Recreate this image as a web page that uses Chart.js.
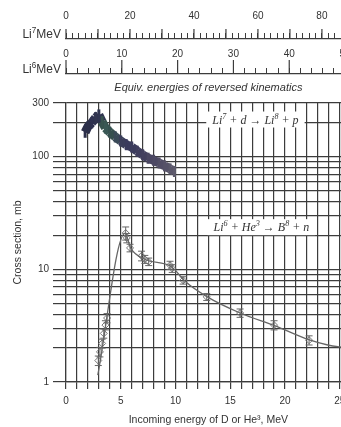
<!DOCTYPE html>
<html>
<head>
<meta charset="utf-8">
<script src="https://cdn.jsdelivr.net/npm/chart.js@4.4.1/dist/chart.umd.min.js"></script>
<style>
  html, body { margin: 0; padding: 0; background: #fff; overflow: hidden; }
  #wrap { width: 341px; height: 427px; overflow: hidden; }
  canvas { display: block; }
</style>
</head>
<body>
<div id="wrap"><canvas id="chart" width="370" height="427"></canvas></div>
<script>
// Li7 + d -> Li8 + p (dense band of measurements)
var li7Energy = [1.75, 2.0, 2.35, 2.7, 3.0, 3.3, 3.6, 4.0, 4.5, 5.0, 5.5, 6.0, 6.5, 7.0, 7.5, 8.0, 8.5, 9.0, 9.5, 9.9];
var li7Sigma  = [165, 185, 200, 222, 235, 205, 180, 165, 150, 138, 128, 122, 112, 104, 97, 93, 88, 83, 78, 74];

// Li6 + He3 -> B8 + n (points with error bars)
var li6Energy = [2.95, 3.1, 3.3, 3.45, 3.6, 3.75, 5.45, 5.55, 5.85, 6.9, 7.2, 7.55, 9.5, 9.7, 10.7, 12.85, 15.9, 19.0, 22.2];
var li6Sigma  = [1.55, 1.85, 2.2, 2.7, 3.2, 3.7, 21, 19, 15.5, 13.2, 12.3, 11.7, 10.9, 10.2, 8.0, 5.7, 4.1, 3.2, 2.35];
var li6Err    = [0.15, 0.18, 0.2, 0.25, 0.3, 0.35, 2.8, 1.8, 1.2, 1.3, 1.0, 0.9, 0.9, 0.8, 0.6, 0.4, 0.35, 0.3, 0.22];

// hand drawn curve through the Li6 points
var fitEnergy = [2.9, 5.4, 5.9, 7.2, 9.6, 10.9, 12.9, 15.9, 19.1, 22.3, 24, 25, 26];
var fitSigma  = [1.15, 21, 15.5, 12.3, 10.6, 7.8, 5.7, 4.1, 3.15, 2.35, 2.12, 2.05, 2.0];

var xTickLabels = [0, 5, 10, 15, 20, 25];
var yTickLabels = [1, 10, 100, 300];
var yGrid = [1, 2, 3, 4, 5, 6, 7, 8, 9, 10, 20, 30, 40, 50, 60, 70, 80, 90, 100, 200, 300];
var li7MeVLabels = [0, 20, 40, 60, 80];
var li6MeVLabels = [0, 10, 20, 30, 40, 50];

var maxE = 26;
var li7Ratio = 3.423;   // Li7 energy per MeV of D
var li6Ratio = 1.962;   // Li6 energy per MeV of He3

var li7Colors = ['#2c2f4a', '#2c2f4a', '#2e3150', '#30344f', '#2f3450',
                 '#38534f', '#3a5855', '#36504f', '#3a4a58',
                 '#3b3d5a', '#3a3a5c', '#3c3c5d', '#403e5e', '#43405f',
                 '#4a4662', '#4d4964', '#524e66', '#565268', '#5a576a', '#5e5b6c'];

var gridCol = '#3c3c3c';
var textCol = '#333';
Chart.defaults.font.family = '"Liberation Sans", Arial, sans-serif';

var notes = [
    {x: 17.3, y: 214, parts: [['Li'], ['7', 1], [' + d \u2192 Li'], ['8', 1], [' + p']]},
    {x: 17.85, y: 23.7, parts: [['Li'], ['6', 1], [' + He'], ['3', 1], [' \u2192 B'], ['8', 1], [' + n']]}
];

function richText(ctx, parts, x, y, size, font, draw) {
    parts.forEach(function (p) {
        var fs = p[1] ? size * 0.68 : size;
        ctx.font = font.replace('SZ', fs + 'px');
        if (draw) ctx.fillText(p[0], x, p[1] ? y - size * 0.4 : y);
        x += ctx.measureText(p[0]).width;
    });
    return x;
}

function pick(list) {
    return function (v) { return list.indexOf(v) >= 0 ? String(v) : ''; };
}

var extras = {
    id: 'extras',
    beforeDatasetsDraw: function (chart) {
        var ctx = chart.ctx, xs = chart.scales.x, ys = chart.scales.y;
        var f = 'italic SZ "Liberation Serif", "Times New Roman", serif';
        notes.forEach(function (n) {
            var px = xs.getPixelForValue(n.x), py = ys.getPixelForValue(n.y);
            ctx.save();
            var w = richText(ctx, n.parts, 0, 0, 12, f, false);
            ctx.fillStyle = '#fff';
            ctx.fillRect(px - w / 2 - 6, py - 8, w + 12, 16);
            ctx.fillStyle = '#333';
            ctx.textBaseline = 'alphabetic';
            richText(ctx, n.parts, px - w / 2, py + 4, 12, f, true);
            ctx.restore();
        });
    },
    afterDatasetsDraw: function (chart) {
        var ctx = chart.ctx, xs = chart.scales.x, ys = chart.scales.y;
        ctx.save();
        // band roughness of the Li7 data
        ctx.lineWidth = 3;
        li7Energy.forEach(function (e, i) {
            var px = xs.getPixelForValue(e);
            ctx.strokeStyle = li7Colors[i];
            ctx.beginPath();
            ctx.moveTo(px, ys.getPixelForValue(li7Sigma[i] * 1.12));
            ctx.lineTo(px, ys.getPixelForValue(li7Sigma[i] / 1.12));
            ctx.stroke();
        });
        // error bars on Li6 points
        ctx.strokeStyle = '#666';
        ctx.lineWidth = 1;
        li6Energy.forEach(function (e, i) {
            var px = xs.getPixelForValue(e);
            var t = ys.getPixelForValue(li6Sigma[i] + li6Err[i]);
            var b = ys.getPixelForValue(li6Sigma[i] - li6Err[i]);
            ctx.beginPath();
            ctx.moveTo(px, t); ctx.lineTo(px, b);
            ctx.moveTo(px - 3.5, t); ctx.lineTo(px + 3.5, t);
            ctx.moveTo(px - 3.5, b); ctx.lineTo(px + 3.5, b);
            ctx.stroke();
        });
        ctx.restore();
    },
    afterDraw: function (chart) {
        var ctx = chart.ctx;
        ctx.save();
        ctx.strokeStyle = gridCol;
        ctx.lineWidth = 1.2;
        [['li7', 10], ['li6', 14]].forEach(function (r) {
            var s = chart.scales[r[0]];
            s.ticks.forEach(function (t) {
                if (t.value % 10 !== 0) return;
                var px = s.getPixelForValue(t.value);
                ctx.beginPath();
                ctx.moveTo(px, s.bottom);
                ctx.lineTo(px, s.bottom - r[1]);
                ctx.stroke();
            });
        });
        // ruler names
        ctx.fillStyle = textCol;
        var f = 'SZ "Liberation Sans", Arial, sans-serif';
        [['li7', '7'], ['li6', '6']].forEach(function (r) {
            var s = chart.scales[r[0]];
            var parts = [['Li'], [r[1], 1], ['MeV']];
            var w = richText(ctx, parts, 0, 0, 12, f, false);
            richText(ctx, parts, 61 - w, s.bottom - 1, 12, f, true);
        });
        ctx.restore();
    }
};

var tickFont = {size: 10};

new Chart(document.getElementById('chart'), {
    type: 'scatter',
    data: {
        datasets: [
            {
                data: li7Energy.map(function (e, i) { return {x: e, y: li7Sigma[i]}; }),
                showLine: true,
                borderWidth: 9,
                borderColor: li7Colors[0],
                borderJoinStyle: 'round',
                segment: { borderColor: function (c) { return li7Colors[c.p0DataIndex]; } },
                pointRadius: 0
            },
            {
                data: fitEnergy.map(function (e, i) { return {x: e, y: fitSigma[i]}; }),
                showLine: true,
                borderWidth: 1.3,
                borderColor: '#666',
                cubicInterpolationMode: 'monotone',
                pointRadius: 0
            },
            {
                data: li6Energy.map(function (e, i) { return {x: e, y: li6Sigma[i]}; }),
                pointStyle: 'rectRot',
                pointRadius: 3.5,
                pointBorderWidth: 1,
                pointBorderColor: '#777',
                pointBackgroundColor: 'rgba(255,255,255,0)'
            }
        ]
    },
    options: {
        responsive: false,
        animation: false,
        layout: { padding: { left: 0, right: 19.3, top: 0, bottom: 0 } },
        plugins: { legend: { display: false }, tooltip: { enabled: false } },
        scales: {
            x: {
                type: 'linear', position: 'bottom', min: 0, max: maxE,
                ticks: { stepSize: 1, includeBounds: false, autoSkip: false, maxRotation: 0, padding: 6, color: textCol, font: tickFont, callback: pick(xTickLabels) },
                grid: { color: gridCol, lineWidth: 1.2, tickLength: 7 },
                border: { color: gridCol, width: 1.2 },
                title: { display: true, text: 'Incoming energy of D or He\u00b3, MeV', color: textCol, font: {size: 10.5}, padding: {top: 0, bottom: 0.7} },
                afterFit: function (s) { s.height = 45; }
            },
            y: {
                type: 'logarithmic', position: 'left', min: 1, max: 300,
                afterBuildTicks: function (s) { s.ticks = yGrid.map(function (v) { return {value: v}; }); },
                ticks: { autoSkip: false, padding: 4, color: textCol, font: tickFont, callback: pick(yTickLabels) },
                grid: { color: gridCol, lineWidth: 1.2, tickLength: 13 },
                border: { color: gridCol, width: 1.2 },
                title: { display: true, text: 'Cross section, mb', color: textCol, font: {size: 10.5}, padding: {top: 11.7, bottom: 0} },
                afterFit: function (s) { s.width = 66; }
            },
            li7: {
                type: 'linear', axis: 'x', position: 'top', weight: 3, min: 0, max: maxE * li7Ratio,
                ticks: { stepSize: 2, includeBounds: false, autoSkip: false, maxRotation: 0, padding: 10.3, color: textCol, font: tickFont, callback: pick(li7MeVLabels) },
                grid: { drawOnChartArea: false, tickLength: 6, color: gridCol, lineWidth: 1 },
                border: { color: gridCol, width: 1.2 },
                afterFit: function (s) { s.height = 39; }
            },
            li6: {
                type: 'linear', axis: 'x', position: 'top', weight: 2, min: 0, max: maxE * li6Ratio,
                ticks: { stepSize: 2, includeBounds: false, autoSkip: false, maxRotation: 0, padding: 7.5, color: textCol, font: tickFont, callback: pick(li6MeVLabels) },
                grid: { drawOnChartArea: false, tickLength: 6, color: gridCol, lineWidth: 1 },
                border: { color: gridCol, width: 1.2 },
                afterFit: function (s) { s.height = 35; }
            },
            xt: {
                type: 'linear', axis: 'x', position: 'top', weight: 1, min: 0, max: maxE,
                ticks: { display: false },
                grid: { display: false, drawTicks: false },
                border: { display: false },
                title: { display: true, text: 'Equiv. energies of reversed kinematics', color: textCol, font: {size: 11, style: 'italic'}, padding: {top: 7.7, bottom: 0} },
                afterFit: function (s) { s.height = 29; }
            }
        }
    },
    plugins: [extras]
});
</script>
</body>
</html>
